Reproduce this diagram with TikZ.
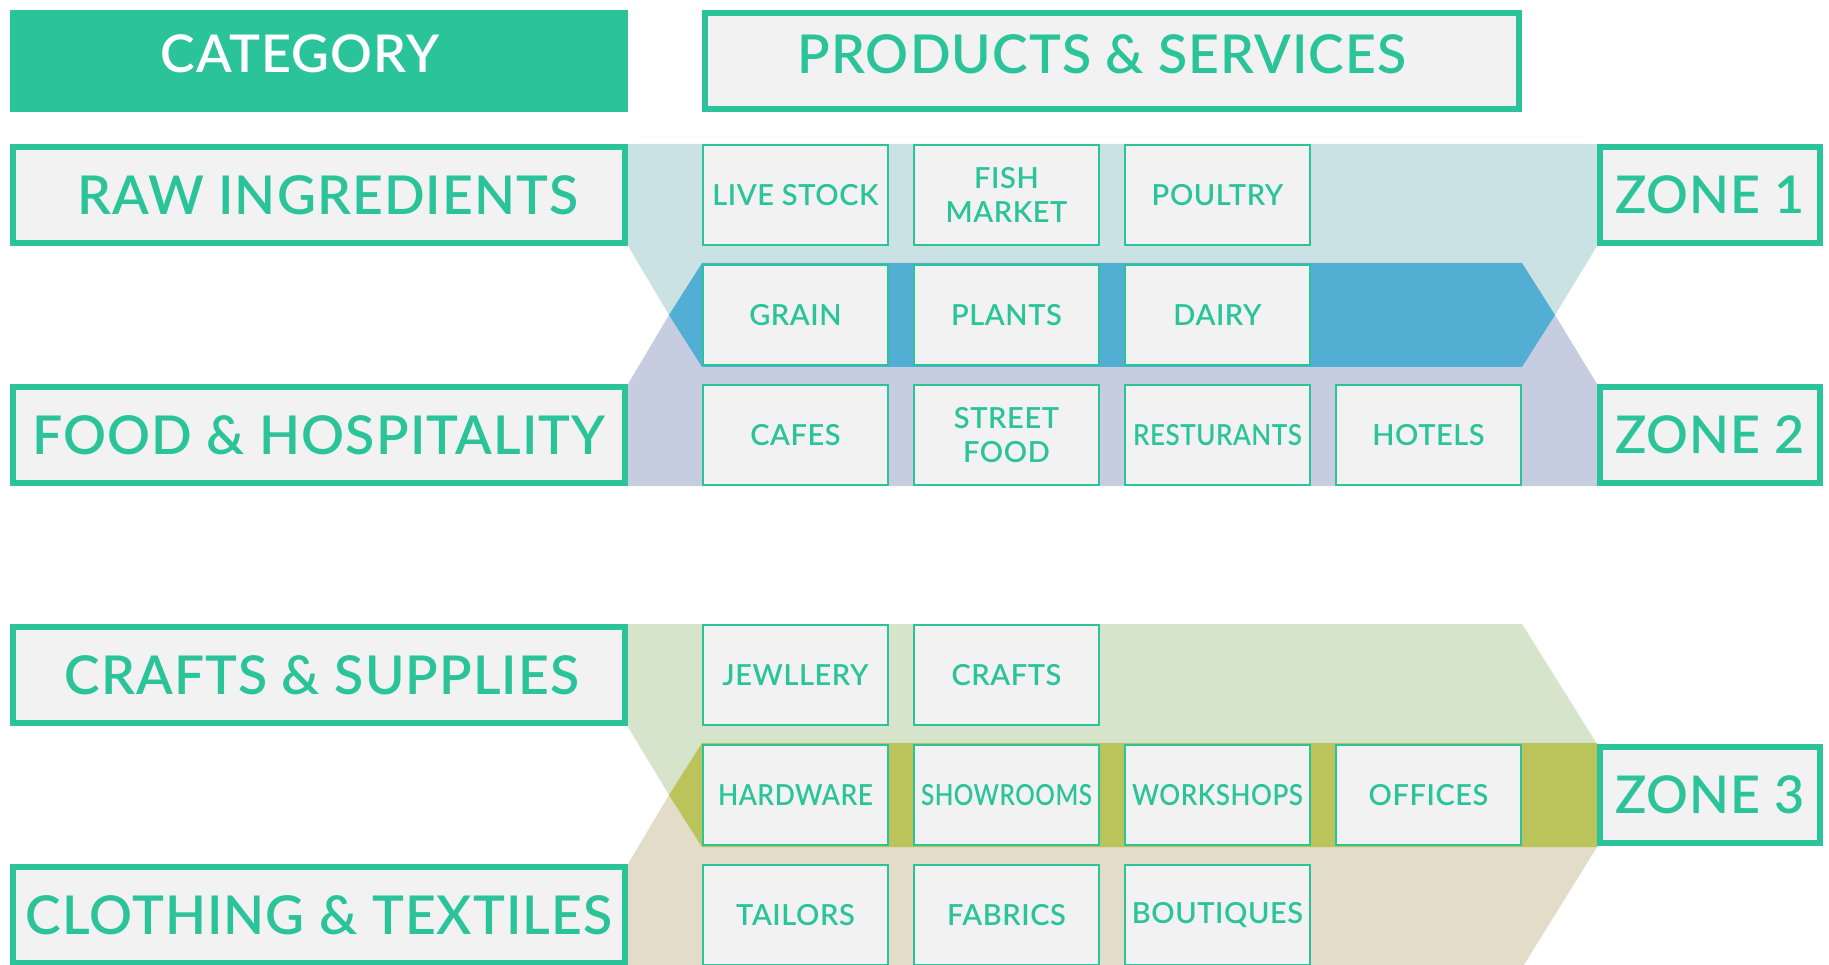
\documentclass[tikz,border=0pt]{standalone}
\usepackage{fontspec}
\IfFontExistsTF{Lato Semibold}
  {\setmainfont{Lato Semibold}[LetterSpace=2]}
  {\setmainfont{Lato}[FakeBold=1.2,LetterSpace=2]}
\usetikzlibrary{positioning}

\definecolor{zgreen}{HTML}{2BC49A}
\definecolor{boxgray}{HTML}{F2F2F2}
\definecolor{bandteal}{HTML}{CAE2E3}
\definecolor{bandblue}{HTML}{53AED3}
\definecolor{bandlav}{HTML}{C6CDE1}
\definecolor{bandsage}{HTML}{D6E4CC}
\definecolor{bandolive}{HTML}{BAC45A}
\definecolor{bandtan}{HTML}{E2DCC9}

% squeeze a long word to a given width
\newcommand{\squeeze}[2]{\resizebox{#1}{\height}{#2}}

\begin{document}
\begin{tikzpicture}[x=1pt,y=-1pt,node distance=26pt,
    cat node/.style={draw=zgreen,line width=6pt,fill=boxgray,text=zgreen,
      minimum width=612pt,minimum height=96pt,inner sep=0pt,outer sep=0pt,
      font=\fontsize{53.5}{58}\selectfont},
    zone node/.style={cat node,minimum width=220pt,
      font=\fontsize{52}{56}\selectfont},
    item node/.style={draw=zgreen,line width=2pt,fill=boxgray,text=zgreen,
      minimum width=185pt,minimum height=100pt,inner sep=0pt,outer sep=0pt,
      align=center,font=\fontsize{29}{34}\selectfont}]

  \useasboundingbox (0,0) rectangle (1829,965);

  % bands behind the boxes
  \fill[bandteal] (628,144) -- (1597,144) -- (1597,246) -- (1555,315)
    -- (669,315) -- (628,246) -- cycle;
  \fill[bandlav] (669,315) -- (1555,315) -- (1597,384) -- (1597,486)
    -- (628,486) -- (628,384) -- cycle;
  \fill[bandblue] (669,315) -- (702,263) -- (1522,263) -- (1555,315)
    -- (1522,367) -- (702,367) -- cycle;
  \fill[bandsage] (628,624) -- (1522,624) -- (1597,744) -- (702,744)
    -- (669,795) -- (628,727) -- cycle;
  \fill[bandtan] (669,795) -- (1597,795) -- (1597,847) -- (1522,968)
    -- (628,968) -- (628,864) -- cycle;
  \fill[bandolive] (669,795) -- (702,743) -- (1597,743) -- (1597,847)
    -- (702,847) -- cycle;

  % headers
  \node[fill=zgreen,text=white,minimum width=618pt,minimum height=102pt,
    inner sep=0pt,text depth=14pt,font=\fontsize{52}{56}\selectfont]
    (cat) at (319,61) {\hspace*{-38pt}CATEGORY};
  \node[cat node,minimum width=814pt,text depth=14pt] (prod) at (1112,61)
    {\hspace*{-20pt}PRODUCTS \& SERVICES};

  % categories
  \node[cat node] (raw) at (319,195) {\hspace*{18pt}RAW INGREDIENTS};
  \node[cat node] (food) at (319,435) {FOOD \& HOSPITALITY};
  \node[cat node] (craft) at (319,675) {\hspace*{6pt}CRAFTS \& SUPPLIES};
  \node[cat node] (cloth) at (319,915) {CLOTHING \& TEXTILES};

  % zones
  \node[zone node] (z1) at (1710,195) {ZONE 1};
  \node[zone node] (z2) at (1710,435) {ZONE 2};
  \node[zone node] (z3) at (1710,795) {ZONE 3};

  % products
  \node[item node] (stock) at (795.5,195) {LIVE STOCK};
  \node[item node] (fish) [right=of stock] {FISH\\MARKET};
  \node[item node] (poultry) [right=of fish] {POULTRY};

  \node[item node] (grain) at (795.5,315) {GRAIN};
  \node[item node] (plants) [right=of grain] {PLANTS};
  \node[item node] (dairy) [right=of plants] {DAIRY};

  \node[item node] (cafes) at (795.5,435) {CAFES};
  \node[item node] (street) [right=of cafes] {STREET\\FOOD};
  \node[item node] (rest) [right=of street] {\squeeze{169pt}{RESTURANTS}};
  \node[item node] (hotels) [right=of rest] {HOTELS};

  \node[item node] (jewel) at (795.5,675) {JEWLLERY};
  \node[item node] (crafts) [right=of jewel] {CRAFTS};

  \node[item node] (hard) at (795.5,795) {\squeeze{155pt}{HARDWARE}};
  \node[item node] (show) [right=of hard] {\squeeze{171pt}{SHOWROOMS}};
  \node[item node] (work) [right=of show] {\squeeze{171pt}{WORKSHOPS}};
  \node[item node] (office) [right=of work] {OFFICES};

  \node[item node] (tailor) at (795.5,915) {TAILORS};
  \node[item node] (fabric) [right=of tailor] {FABRICS};
  \node[item node] (bout) [right=of fabric] {BOUTIQUES};
\end{tikzpicture}
\end{document}
